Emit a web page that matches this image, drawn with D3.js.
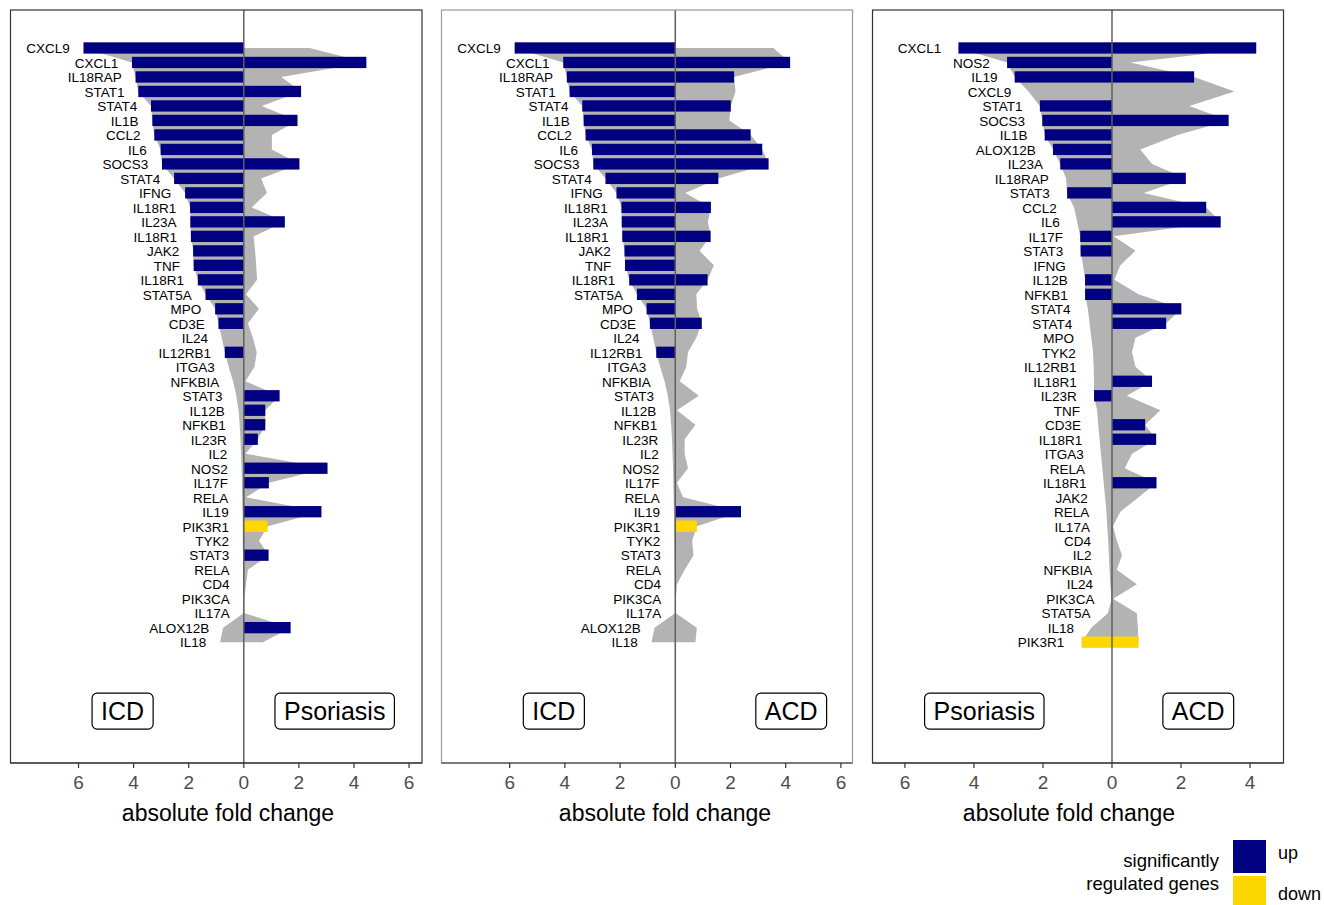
<!DOCTYPE html>
<html>
<head>
<meta charset="utf-8">
<script src="https://cdn.jsdelivr.net/npm/d3@7"></script>
<style>
  body { margin: 0; background: #fff; }
  svg { font-family: "Liberation Sans", Arial, Helvetica, sans-serif; }
</style>
</head>
<body>
<div id="chart"></div>
<script>

//--------------------------------------------------------------------------
//
// data
//

// gene order of the ICD-vs-Psoriasis and ICD-vs-ACD panels (sorted by ICD)
var genesICD = ["CXCL9", "CXCL1", "IL18RAP", "STAT1", "STAT4", "IL1B", "CCL2",
  "IL6", "SOCS3", "STAT4", "IFNG", "IL18R1", "IL23A", "IL18R1", "JAK2", "TNF",
  "IL18R1", "STAT5A", "MPO", "CD3E", "IL24", "IL12RB1", "ITGA3", "NFKBIA",
  "STAT3", "IL12B", "NFKB1", "IL23R", "IL2", "NOS2", "IL17F", "RELA", "IL19",
  "PIK3R1", "TYK2", "STAT3", "RELA", "CD4", "PIK3CA", "IL17A", "ALOX12B", "IL18"];

// gene order of the Psoriasis-vs-ACD panel (sorted by Psoriasis)
var genesPso = ["CXCL1", "NOS2", "IL19", "CXCL9", "STAT1", "SOCS3", "IL1B",
  "ALOX12B", "IL23A", "IL18RAP", "STAT3", "CCL2", "IL6", "IL17F", "STAT3", "IFNG",
  "IL12B", "NFKB1", "STAT4", "STAT4", "MPO", "TYK2", "IL12RB1", "IL18R1", "IL23R",
  "TNF", "CD3E", "IL18R1", "ITGA3", "RELA", "IL18R1", "JAK2", "RELA", "IL17A",
  "CD4", "IL2", "NFKBIA", "IL24", "PIK3CA", "STAT5A", "IL18", "PIK3R1"];

// absolute fold changes, one value per gene in the order above
var icdFold = [5.82, 4.06, 3.93, 3.83, 3.37, 3.32, 3.25, 3.02, 2.97, 2.53, 2.13,
  1.95, 1.94, 1.92, 1.84, 1.82, 1.67, 1.39, 1.04, 0.92, 0.80, 0.69, 0.55, 0.39,
  0.27, 0.19, 0.15, 0.12, 0.10, 0.08, 0.07, 0.06, 0.05, 0.04, 0.04, 0.03, 0.02,
  0.02, 0.01, 0.01, 0.75, 0.86];
var psoFoldA = [2.39, 4.45, 1.36, 2.08, 0.65, 1.95, 1.02, 1.02, 2.02, 0.63, 0.84,
  0.29, 1.49, 0.36, 0.41, 0.45, 0.48, 0.08, 0.55, 0.15, 0.33, 0.47, 0.39, 0.06,
  1.30, 0.78, 0.78, 0.51, 0.06, 3.04, 0.91, 0.08, 2.82, 0.87, 0.55, 0.90, 0.15,
  0.08, 0.02, 0.02, 1.70, 0.69];
var acdFoldA = [3.55, 4.16, 2.13, 2.18, 2.01, 1.96, 2.73, 3.15, 3.38, 1.56, 0.36,
  1.29, 1.18, 1.28, 0.88, 1.40, 1.17, 0.76, 0.79, 0.96, 0.76, 0.46, 0.40, 0.16,
  0.85, 0.06, 0.73, 0.34, 0.34, 0.46, 0.06, 0.28, 2.38, 0.78, 0.61, 0.66, 0.34,
  0.06, 0.02, 0.02, 0.78, 0.73];
var psoFoldB = [4.45, 3.04, 2.82, 2.42, 2.09, 2.02, 1.95, 1.71, 1.50, 1.33, 1.30,
  1.10, 1.01, 0.92, 0.91, 0.84, 0.78, 0.78, 0.70, 0.65, 0.60, 0.55, 0.53, 0.52,
  0.52, 0.43, 0.40, 0.36, 0.32, 0.28, 0.24, 0.20, 0.16, 0.14, 0.11, 0.09, 0.07,
  0.05, 0.01, 0.12, 0.60, 0.88];
var acdFoldB = [4.18, 0.53, 2.38, 3.55, 2.24, 3.38, 1.90, 0.82, 1.16, 2.14, 0.92,
  2.73, 3.15, 0.05, 0.68, 0.24, 0.07, 0.77, 2.01, 1.57, 0.68, 0.58, 0.68, 1.16,
  0.43, 1.40, 0.96, 1.28, 0.58, 0.37, 1.29, 0.77, 0.24, 0.03, 0.14, 0.29, 0.14,
  0.72, 0.03, 0.72, 0.75, 0.77];

// significance: 1 = up, -1 = down, 0 = not significant
var icdSig = [1, 1, 1, 1, 1, 1, 1, 1, 1, 1, 1, 1, 1, 1, 1, 1, 1, 1, 1, 1, 0, 1,
  0, 0, 0, 0, 0, 0, 0, 0, 0, 0, 0, 0, 0, 0, 0, 0, 0, 0, 0, 0];
var psoSigA = [0, 1, 0, 1, 0, 1, 0, 0, 1, 0, 0, 0, 1, 0, 0, 0, 0, 0, 0, 0, 0, 0,
  0, 0, 1, 1, 1, 1, 0, 1, 1, 0, 1, -1, 0, 1, 0, 0, 0, 0, 1, 0];
var acdSigA = [0, 1, 1, 0, 1, 0, 1, 1, 1, 1, 0, 1, 0, 1, 0, 0, 1, 0, 0, 1, 0, 0,
  0, 0, 0, 0, 0, 0, 0, 0, 0, 0, 1, -1, 0, 0, 0, 0, 0, 0, 0, 0];
var psoSigB = [1, 1, 1, 0, 1, 1, 1, 1, 1, 0, 1, 0, 0, 1, 1, 0, 1, 1, 0, 0, 0, 0,
  0, 0, 1, 0, 0, 0, 0, 0, 0, 0, 0, 0, 0, 0, 0, 0, 0, 0, 0, -1];
var acdSigB = [1, 0, 1, 0, 0, 1, 0, 0, 0, 1, 0, 1, 1, 0, 0, 0, 0, 0, 1, 1, 0, 0,
  0, 1, 0, 0, 1, 1, 0, 0, 1, 0, 0, 0, 0, 0, 0, 0, 0, 0, 0, -1];

// condition names shown in the boxes, and the x (fold) where each box sits
var conditions = [["ICD", "Psoriasis"], ["ICD", "ACD"], ["Psoriasis", "ACD"]];
var conditionPos = [[-4.4, 3.3], [-4.4, 4.2], [-3.7, 2.5]];

var tickValues = [[6, 4, 2, 0, 2, 4, 6], [6, 4, 2, 0, 2, 4, 6], [6, 4, 2, 0, 2, 4]];
var legendKeys = ["up", "down"];

//--------------------------------------------------------------------------
//
// layout
//

var colours = { up: "#000080", down: "#FFD700", area: "#b3b3b3" };

var panels = [
  { x0: 10.5, x1: 422, dom: [-8.47, 6.47], border: "#333", title: 228,
    genes: genesICD, left: icdFold, right: psoFoldA, lsig: icdSig, rsig: psoSigA },
  { x0: 441.5, x1: 852.5, dom: [-8.47, 6.42], border: "#999", title: 665,
    genes: genesICD, left: icdFold, right: acdFoldA, lsig: icdSig, rsig: acdSigA },
  { x0: 872.5, x1: 1283.5, dom: [-6.94, 4.97], border: "#333", title: 1069,
    genes: genesPso, left: psoFoldB, right: acdFoldB, lsig: psoSigB, rsig: acdSigB }
];

var plotTop = 10, plotBottom = 763, rowSpan = [-2.62, 49.34], boxRow = 45.76;

var svg = d3.select("#chart").append("svg")
    .attr("width", 1324)
    .attr("height", 905);

var y = d3.scaleLinear().domain(rowSpan).range([plotTop, plotBottom]);
var barH = 0.78 * (y(1) - y(0));

panels.forEach(function(p, k) {

  var x = d3.scaleLinear().domain(p.dom).range([p.x0, p.x1]);
  var g = svg.append("g").attr("class", "panel");

  // grey envelope of all genes, one for each side
  [[p.left, -1], [p.right, 1]].forEach(function(side) {
    var pts = side[0].map(function(v, i) { return { i: i, v: v }; });
    g.append("path")
        .datum(pts)
        .attr("fill", colours.area)
        .attr("d", d3.area()
          .y(function(d) { return y(d.i); })
          .x0(x(0))
          .x1(function(d) { return x(side[1] * d.v); }));
  });

  // significant genes as bars
  [[p.left, p.lsig, -1], [p.right, p.rsig, 1]].forEach(function(side) {
    var rows = side[0].map(function(v, i) { return { i: i, v: v, s: side[1][i] }; })
        .filter(function(d) { return d.s !== 0; });
    g.selectAll(null)
        .data(rows)
        .enter().append("rect")
        .attr("x", function(d) { return Math.min(x(0), x(side[2] * d.v)); })
        .attr("width", function(d) { return Math.abs(x(side[2] * d.v) - x(0)); })
        .attr("y", function(d) { return y(d.i) - barH / 2; })
        .attr("height", barH)
        .attr("fill", function(d) { return d.s > 0 ? colours.up : colours.down; });
  });

  // gene names sit just left of the left value
  g.selectAll(null)
      .data(p.genes)
      .enter().append("text")
      .attr("x", function(d, i) { return x(-(p.left[i] + 0.5)); })
      .attr("y", function(d, i) { return y(i) + 5.3; })
      .attr("text-anchor", "end")
      .attr("font-size", "13.5px")
      .attr("fill", "#000")
      .text(function(d) { return d; });

  // zero line
  g.append("line")
      .attr("x1", x(0)).attr("x2", x(0))
      .attr("y1", plotTop).attr("y2", plotBottom)
      .attr("stroke", "#5f5f5f")
      .attr("stroke-width", 1.5);

  // condition boxes
  conditions[k].forEach(function(name, j) {
    var cx = x(conditionPos[k][j]), cy = y(boxRow);
    var lab = g.append("g");
    var t = lab.append("text")
        .attr("x", cx)
        .attr("y", cy + 9)
        .attr("text-anchor", "middle")
        .attr("font-size", "25px")
        .text(name);
    var w = t.node().getComputedTextLength() + 18;
    lab.insert("rect", "text")
        .attr("x", cx - w / 2)
        .attr("y", cy - 18)
        .attr("width", w)
        .attr("height", 36)
        .attr("rx", 5)
        .attr("fill", "#fff")
        .attr("stroke", "#000")
        .attr("stroke-width", 1.2);
  });

  // frame
  g.append("rect")
      .attr("x", p.x0).attr("y", plotTop)
      .attr("width", p.x1 - p.x0).attr("height", plotBottom - plotTop)
      .attr("fill", "none")
      .attr("stroke", p.border)
      .attr("stroke-width", 1.2);

  // x axis
  var ax = g.append("g");
  ax.append("line")
      .attr("x1", p.x0).attr("x2", p.x1)
      .attr("y1", plotBottom).attr("y2", plotBottom)
      .attr("stroke", "#333").attr("stroke-width", 1.2);
  var zeroAt = tickValues[k].indexOf(0);
  var ticks = tickValues[k].map(function(v, i) {
    return { v: v, pos: i < zeroAt ? -v : v };
  });
  var tk = ax.selectAll(null).data(ticks).enter().append("g")
      .attr("transform", function(d) { return "translate(" + x(d.pos) + "," + plotBottom + ")"; });
  tk.append("line").attr("y2", 5).attr("stroke", "#333").attr("stroke-width", 1.2);
  tk.append("text")
      .attr("y", 26)
      .attr("text-anchor", "middle")
      .attr("font-size", "19px")
      .attr("fill", "#4d4d4d")
      .text(function(d) { return d.v; });

  ax.append("text")
      .attr("x", p.title)
      .attr("y", 821)
      .attr("text-anchor", "middle")
      .attr("font-size", "23px")
      .attr("fill", "#000")
      .text("absolute fold change");
});

//--------------------------------------------------------------------------
//
// legend
//

var legend = svg.append("g").attr("class", "legend");
legend.selectAll(null)
    .data(["significantly", "regulated genes"])
    .enter().append("text")
    .attr("x", 1219)
    .attr("y", function(d, i) { return 867 + i * 23; })
    .attr("text-anchor", "end")
    .attr("font-size", "18.5px")
    .text(function(d) { return d; });

legend.selectAll(null)
    .data(legendKeys)
    .enter().append("rect")
    .attr("x", 1233)
    .attr("y", function(d, i) { return 840 + i * 36; })
    .attr("width", 33)
    .attr("height", 33)
    .attr("fill", function(d) { return colours[d]; });

legend.selectAll(null)
    .data(legendKeys)
    .enter().append("text")
    .attr("x", 1278)
    .attr("y", function(d, i) { return 859 + i * 41; })
    .attr("font-size", "18px")
    .text(function(d) { return d; });

</script>
</body>
</html>
